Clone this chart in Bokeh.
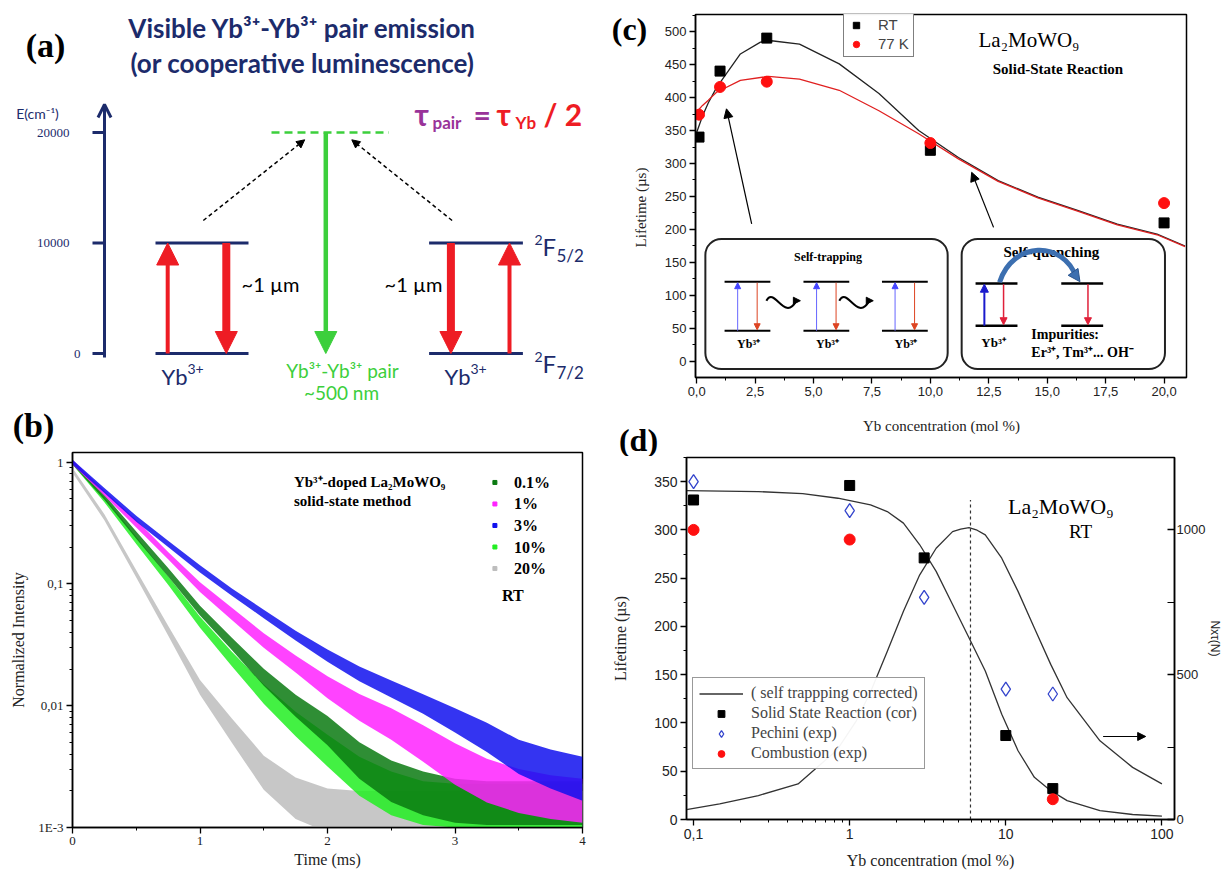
import numpy as np
from bokeh.plotting import figure
from bokeh.layouts import row, column
from bokeh.models import (Range1d, LinearAxis, FixedTicker, CustomJSTickFormatter,
                          Arrow, NormalHead, OpenHead, Legend, LegendItem)
from bokeh.core.properties import value
from bokeh.embed import file_html
from bokeh.resources import INLINE

NAVY = "#1c2b6b"
RED = "#ee1c24"
GREEN = "#3ccf3c"
PURPLE = "#993399"
SERIF = "Liberation Serif"
SANS = "Liberation Sans"
CAL = "Lato"

# ---------------- (a) energy diagram ----------------
energy_ticks = [0, 10000, 20000]
energy_tick_labels = ["0", "10000", "20000"]
yb_levels = [0, 10000]          # 2F7/2 , 2F5/2
pair_level = 20000

# ---------------- (b) decay curves (log10 of normalized intensity) ----------------
decay_t = [0.0, 0.25, 0.5, 0.75, 1.0, 1.25, 1.5, 1.75, 2.0, 2.25, 2.5, 2.75, 3.0, 3.25, 3.5, 3.75, 4.0]
decay_names = ["0.1%", "1%", "3%", "10%", "20%"]
decay_colors = ["#0b7a12", "#ff22ff", "#1010ee", "#22ee22", "#bdbdbd"]
log_i_01 = [0, -0.288, -0.60, -0.904, -1.219, -1.492, -1.767, -2.00, -2.205, -2.45, -2.62, -2.72, -2.78, -2.80, -2.80, -2.80, -2.80]
log_i_1 = [0, -0.255, -0.506, -0.767, -1.027, -1.246, -1.465, -1.657, -1.849, -2.013, -2.15, -2.31, -2.478, -2.615, -2.70, -2.75, -2.78]
log_i_3 = [0, -0.233, -0.465, -0.671, -0.876, -1.068, -1.246, -1.424, -1.588, -1.739, -1.862, -1.985, -2.12, -2.26, -2.42, -2.52, -2.60]
log_i_10 = [0, -0.309, -0.643, -0.972, -1.315, -1.616, -1.903, -2.15, -2.369, -2.58, -2.72, -2.80, -2.82, -2.82, -2.82, -2.82, -2.82]
log_i_20 = [-0.068, -0.452, -0.917, -1.383, -1.849, -2.205, -2.55, -2.76, -2.86, -2.88, -2.88, -2.88, -2.88, -2.88, -2.88, -2.88, -2.88]
spread_01 = [0.02, 0.02, 0.03, 0.035, 0.04, 0.05, 0.07, 0.09, 0.12, 0.15, 0.17, 0.18, 0.18, 0.18, 0.18, 0.18, 0.18]
spread_1 = [0.02, 0.02, 0.03, 0.03, 0.04, 0.05, 0.06, 0.07, 0.09, 0.11, 0.13, 0.15, 0.17, 0.18, 0.18, 0.18, 0.18]
spread_3 = [0.02, 0.02, 0.025, 0.025, 0.03, 0.03, 0.035, 0.04, 0.05, 0.06, 0.07, 0.08, 0.10, 0.12, 0.14, 0.16, 0.18]
spread_10 = [0.02, 0.02, 0.03, 0.035, 0.045, 0.06, 0.08, 0.10, 0.13, 0.16, 0.18, 0.18, 0.18, 0.18, 0.18, 0.18, 0.18]
spread_20 = [0.02, 0.025, 0.03, 0.04, 0.06, 0.10, 0.14, 0.17, 0.18, 0.18, 0.18, 0.18, 0.18, 0.18, 0.18, 0.18, 0.18]

# ---------------- (c) lifetime vs concentration ----------------
conc_c = [0.1, 1, 3, 10, 20]
tau_rt = [340, 440, 490, 320, 210]
tau_77k = [374, 416, 424, 331, 240]
fit_rt_x = [0.0, 0.25, 0.5, 0.85, 1.87, 2.73, 3.2, 4.4, 6.1, 7.8, 9.5, 11.2, 12.9, 14.6, 16.3, 18.0, 19.7, 20.9]
fit_rt_y = [347, 372, 392, 415, 466, 484, 486, 481, 451, 406, 350, 309, 274, 249, 229, 208, 193, 175]
fit_77k_x = [0.0, 0.25, 0.5, 0.85, 1.87, 3.07, 4.4, 6.1, 7.8, 9.5, 11.2, 12.9, 14.6, 16.3, 18.0, 19.7, 20.9]
fit_77k_y = [378, 388, 396, 408, 426, 432, 428, 411, 380, 345, 307, 273, 248, 228, 207, 192, 174]

# ---------------- (d) lifetime vs concentration (log) ----------------
conc_ssr = [0.1, 1, 3, 10, 20]
tau_ssr = [331, 346, 271, 87, 32]
conc_pech = [0.1, 1, 3, 10, 20]
tau_pech = [350, 320, 230, 135, 130]
conc_comb = [0.1, 1, 20]
tau_comb = [300, 290, 21]
fit_tau_x = [0.09, 0.26, 0.5, 0.84, 1.36, 1.74, 2.21, 2.81, 3.58, 4.56, 5.81, 7.39, 9.42, 11.98, 15.24, 19.4, 24.7, 40.1, 64.9, 100]
fit_tau_y = [340.7, 339.7, 337.5, 332.8, 326, 319, 307, 284.6, 257, 222.7, 188.2, 153.8, 109, 71.2, 43.7, 29.9, 19.6, 9.3, 5.2, 3.4]
nxt_x = [0.09, 0.147, 0.26, 0.467, 0.83, 1.1, 1.36, 1.74, 2.21, 2.81, 3.58, 4.56, 5.14, 5.81, 6.55, 7.39, 9.42, 11.98, 15.24, 19.4, 24.7, 40.1, 64.9, 100]
nxt_y = [34.4, 54, 82.6, 122.8, 240, 340, 440, 580, 719, 845, 936.7, 994, 1003, 1008, 999, 982.8, 902.3, 787.7, 661.5, 535.6, 420.7, 271.8, 180, 122.8]
critical_conc = 5.94


def txt(p, x, y, s, size, color="black", font=CAL, style="normal", align="center",
        baseline="middle", angle=0):
    p.text(x=[x], y=[y], text=[s], text_font=value(font), text_font_size=f"{size}px",
           text_font_style=style, text_color=color, text_align=align,
           text_baseline=baseline, angle=angle)


def style_axes(p, tick_font, tick_size, title_font, title_size):
    for ax in p.axis:
        ax.axis_line_color = "black"
        ax.axis_line_width = 1.5
        ax.major_tick_line_color = "black"
        ax.minor_tick_line_color = "black"
        ax.major_tick_line_width = 1.3
        ax.major_tick_in = 0
        ax.major_tick_out = 6
        ax.minor_tick_in = 0
        ax.minor_tick_out = 3
        ax.major_label_standoff = 3
        ax.major_label_text_font = tick_font
        ax.major_label_text_font_size = f"{tick_size}px"
        ax.major_label_text_color = "#222222"
        ax.axis_label_text_font = title_font
        ax.axis_label_text_font_size = f"{title_size}px"
        ax.axis_label_text_font_style = "normal"
        ax.axis_label_text_color = "#222222"
    p.grid.visible = False
    p.outline_line_color = "black"
    p.outline_line_width = 1.5
    p.outline_line_alpha = 1


def strip(w, h):
    s = figure(width=w, height=h, x_range=Range1d(0, w), y_range=Range1d(h, 0),
               x_axis_type=None, y_axis_type=None, toolbar_location=None, output_backend="svg",
               min_border=0, outline_line_color=None, frame_align=False)
    return s


# =================== panel (a) (also holds the "(b)" tag) ===================
def ey(py):
    return (353.0 - py) / 0.01105


pa = figure(width=600, height=445, x_range=Range1d(0, 600), y_range=Range1d(ey(445), ey(0)),
            x_axis_type=None, y_axis_type=None, toolbar_location=None, output_backend="svg",
            min_border=0, outline_line_color=None, frame_align=False)

pa.add_layout(Arrow(end=OpenHead(size=13, line_color=NAVY, line_width=3),
                    x_start=104, y_start=ey(357), x_end=104, y_end=ey(104),
                    line_color=NAVY, line_width=3))
pa.segment(x0=92, y0=energy_ticks, x1=104, y1=energy_ticks, line_color=NAVY, line_width=3)
pa.text(x=[80, 69, 69], y=energy_ticks, text=energy_tick_labels, text_align="right",
        text_baseline="middle", text_font=value(SERIF), text_font_size="13px", text_color=NAVY)
txt(pa, 37, ey(113), "E(cm⁻¹)", 14, NAVY)

for xl, xr in [(155, 248), (428.6, 522.4)]:
    pa.segment(x0=xl, y0=yb_levels, x1=xr, y1=yb_levels, line_color=NAVY, line_width=3)
pa.segment(x0=271, y0=pair_level, x1=388.4, y1=pair_level, line_color=GREEN,
           line_width=2.5, line_dash="8 5")

HEAD = 22


def block_arrow(x, y_from, y_to, color, width):
    sign = 1 if y_to > y_from else -1
    base = y_to - sign * (HEAD - 3) / 0.01105
    pa.segment(x0=x, y0=y_from, x1=x, y1=base, line_color=color, line_width=width)
    pa.add_layout(Arrow(end=NormalHead(size=HEAD, fill_color=color, line_color=color, line_width=1),
                        x_start=x, y_start=base, x_end=x, y_end=y_to,
                        line_color=color, line_width=1))


block_arrow(167.2, yb_levels[0], yb_levels[1], RED, 4)
block_arrow(225.8, yb_levels[1], yb_levels[0], RED, 8)
block_arrow(450.4, yb_levels[1], yb_levels[0], RED, 8)
block_arrow(509.0, yb_levels[0], yb_levels[1], RED, 4)
block_arrow(325.3, pair_level, yb_levels[0], GREEN, 4.5)

for xs, xe in [(202.8, 304.2), (451.6, 351.3)]:
    pa.add_layout(Arrow(end=NormalHead(size=8, fill_color="black", line_color="black"),
                        x_start=xs, y_start=ey(220), x_end=xe, y_end=ey(139.3),
                        line_color="black", line_width=1.5, line_dash="4 3"))

txt(pa, 45, ey(45), "(a)", 34, font=SERIF, style="bold")
txt(pa, 33, ey(425), "(b)", 34, font=SERIF, style="bold")
txt(pa, 302, ey(27), "Visible Yb³⁺-Yb³⁺ pair emission", 26, NAVY, CAL, "bold")
txt(pa, 302, ey(62), "(or cooperative luminescence)", 26, NAVY, CAL, "bold")
txt(pa, 270, ey(283), "~1 µm", 20)
txt(pa, 413, ey(283), "~1 µm", 20)
for x0 in [161, 444]:
    txt(pa, x0, ey(376), "Yb", 22, NAVY, align="left")
    txt(pa, x0 + 26, ey(368), "3+", 14, NAVY, align="left")
txt(pa, 342, ey(370), "Yb³⁺-Yb³⁺ pair", 19, GREEN)
txt(pa, 341, ey(392), "~500 nm", 19, GREEN)
for yc, sub in [(248, "5/2"), (365, "7/2")]:
    txt(pa, 534, ey(yc - 9), "2", 14, NAVY, align="left")
    txt(pa, 542, ey(yc - 2), "F", 24, NAVY, align="left")
    txt(pa, 556, ey(yc + 7), sub, 17, NAVY, align="left")
txt(pa, 414, ey(113), "τ", 30, PURPLE, style="bold", align="left")
txt(pa, 432, ey(122), "pair", 17, PURPLE, style="bold", align="left")
txt(pa, 473, ey(113), "=", 30, PURPLE, style="bold", align="left")
txt(pa, 496, ey(113), "τ", 30, RED, style="bold", align="left")
txt(pa, 515, ey(122), "Yb", 17, RED, style="bold", align="left")
txt(pa, 543, ey(113), "/ 2", 30, RED, style="bold", align="left")

# =================== panel (b) ===================
def bX(px):
    return (px - 71.6) / 127.5


def bY(py):
    return 10 ** (-(py - 461.7) / 121.7)


pb = figure(width=600, height=430, x_range=Range1d(0, 4), y_range=Range1d(1e-3, 1.2),
            y_axis_type="log", toolbar_location=None, output_backend="svg", frame_align=False,
            min_border_left=72, min_border_right=18, min_border_top=7, min_border_bottom=48)

series = {"0.1%": (log_i_01, spread_01), "1%": (log_i_1, spread_1), "3%": (log_i_3, spread_3),
          "10%": (log_i_10, spread_10), "20%": (log_i_20, spread_20)}
colors = dict(zip(decay_names, decay_colors))
for name in ["20%", "10%", "0.1%", "1%", "3%"]:
    li, sp = series[name]
    li = np.array(li)
    sp = np.array(sp)
    pb.varea(x=decay_t, y1=10 ** (li - sp), y2=10 ** (li + sp), fill_color=colors[name], fill_alpha=0.85)

legend_rows = [482, 503.5, 525, 546.5, 568]
pb.scatter(x=[bX(494)] * 5, y=[bY(r) for r in legend_rows], marker="square", size=4,
           color=decay_colors)
pb.text(x=[bX(513)] * 5, y=[bY(r) for r in legend_rows], text=decay_names, text_font=value(SERIF),
        text_font_size="16px", text_font_style="bold", text_align="left", text_baseline="middle")
txt(pb, bX(293), bY(482), "Yb³⁺-doped La₂MoWO₉", 15, font=SERIF, style="bold", align="left")
txt(pb, bX(293), bY(501), "solid-state method", 15, font=SERIF, style="bold", align="left")
txt(pb, bX(501), bY(595), "RT", 16, font=SERIF, style="bold", align="left")

pb.xaxis.ticker = FixedTicker(ticks=[0, 1, 2, 3, 4], minor_ticks=[0.5, 1.5, 2.5, 3.5])
pb.yaxis.formatter = CustomJSTickFormatter(
    code="const v = Number(tick.toPrecision(3)); if (v < 0.005) {return '1E-3';} return String(v).replace('.', ',');")
pb.xaxis.axis_label = "Time (ms)"
pb.yaxis.axis_label = "Normalized Intensity"
style_axes(pb, SERIF, 13, SERIF, 16)
pb.xaxis.axis_label_standoff = 3
pb.yaxis.axis_label_standoff = 8

# =================== panel (c) ===================
def cX(px):
    return (px - 695.7) / 23.37


def cY(py):
    return (360.7 - py) / 0.6593


sc = strip(55, 418)
txt(sc, 29, 28, "(c)", 32, font=SERIF, style="bold")
txt(sc, 40, 207, "Lifetime (µs)", 15, "#222222", font=SERIF, angle=np.pi / 2)

pc = figure(width=570, height=418, x_range=Range1d(-0.05, 20.96), y_range=Range1d(-24.3, 525.8),
            toolbar_location=None, output_backend="svg", frame_align=False,
            min_border_left=40, min_border_right=39, min_border_top=14, min_border_bottom=41)
pc.line(fit_rt_x, fit_rt_y, line_color="#222222", line_width=1.3)
pc.line(fit_77k_x, fit_77k_y, line_color="#e02020", line_width=1.3)
rt_r = pc.scatter(conc_c, tau_rt, marker="square", size=10, color="black")
k77_r = pc.scatter(conc_c, tau_77k, marker="circle", size=11, color="#ff1010")

for l, r in [(704.4, 946.7), (960.7, 1164.0)]:
    pc.quad(left=cX(l), right=cX(r), bottom=cY(368.3), top=cY(238.3), fill_color="white",
            line_color="#222222", line_width=2, border_radius=16)

# self-trapping inset
txt(pc, cX(827), cY(256.7), "Self-trapping", 12, font=SERIF, style="bold")
for il in [723.6, 802.5, 881.0]:
    pc.segment(x0=cX(il), y0=[cY(281), cY(330)], x1=cX(il + 45.8), y1=[cY(281), cY(330)],
               line_color="black", line_width=2)
    pc.add_layout(Arrow(end=NormalHead(size=6, fill_color="#4444ff", line_color="#4444ff"),
                        x_start=cX(il + 13.1), y_start=cY(330), x_end=cX(il + 13.1), y_end=cY(282),
                        line_color="#6666ff", line_width=1))
    pc.add_layout(Arrow(end=NormalHead(size=6, fill_color="#dd4422", line_color="#dd4422"),
                        x_start=cX(il + 32.6), y_start=cY(282), x_end=cX(il + 32.6), y_end=cY(329),
                        line_color="#dd4422", line_width=1))
    txt(pc, cX(il + 24), cY(343.5), "Yb³⁺", 12, font=SERIF, style="bold")
for wl in [765.4, 838.3]:
    pc.bezier(x0=cX(wl), y0=cY(300), x1=cX(wl + 30), y1=cY(300), cx0=cX(wl + 8), cy0=cY(285),
              cx1=cX(wl + 18), cy1=cY(322), line_color="black", line_width=2)
    pc.add_layout(Arrow(end=NormalHead(size=7, fill_color="black", line_color="black"),
                        x_start=cX(wl + 28), y_start=cY(300), x_end=cX(wl + 34), y_end=cY(300),
                        line_color="black", line_width=2))

# self-quenching inset
txt(pc, cX(1050.4), cY(251.7), "Self-quenching", 15, font=SERIF, style="bold")
for il, ir in [(974.6, 1016.5), (1060.3, 1102.2)]:
    pc.segment(x0=cX(il), y0=[cY(282.7), cY(325)], x1=cX(ir), y1=[cY(282.7), cY(325)],
               line_color="black", line_width=2.5)
pc.add_layout(Arrow(end=NormalHead(size=8, fill_color="#1a1acc", line_color="#1a1acc"),
                    x_start=cX(983.4), y_start=cY(325), x_end=cX(983.4), y_end=cY(283.5),
                    line_color="#1a1acc", line_width=2))
for xr in [1002.6, 1087.0]:
    pc.add_layout(Arrow(end=NormalHead(size=7, fill_color="#e0203a", line_color="#e0203a"),
                        x_start=cX(xr), y_start=cY(283.5), x_end=cX(xr), y_end=cY(324),
                        line_color="#e0203a", line_width=1.5))
pc.bezier(x0=cX(998.6), y0=cY(281.5), x1=cX(1075), y1=cY(276), cx0=cX(1012), cy0=cY(240),
          cx1=cX(1062), cy1=cY(240), line_color="#3c6fb0", line_width=5)
pc.add_layout(Arrow(end=NormalHead(size=12, fill_color="#3c6fb0", line_color="#2a5590"),
                    x_start=cX(1072), y_start=cY(271), x_end=cX(1079), y_end=cY(281),
                    line_color="#3c6fb0", line_width=1))
txt(pc, cX(992.6), cY(341.7), "Yb³⁺", 13, font=SERIF, style="bold")
txt(pc, cX(1030.4), cY(333.3), "Impurities:", 14, font=SERIF, style="bold", align="left")
txt(pc, cX(1030.4), cY(351.7), "Er³⁺, Tm³⁺... OH⁻", 14, font=SERIF, style="bold", align="left")

for xs, ys, xe, ye in [(750.7, 223.3, 725.5, 108.3), (992.6, 226.7, 970.7, 171.7)]:
    pc.add_layout(Arrow(end=NormalHead(size=9, fill_color="black", line_color="black"),
                        x_start=cX(xs), y_start=cY(ys), x_end=cX(xe), y_end=cY(ye),
                        line_color="black", line_width=1.2))

txt(pc, cX(1028), cY(40), "La₂MoWO₉", 21, font=SERIF)
txt(pc, cX(1057), cY(68), "Solid-State Reaction", 15, font=SERIF, style="bold")

leg_c = Legend(items=[LegendItem(label="RT", renderers=[rt_r]),
                      LegendItem(label="77 K", renderers=[k77_r])],
               location=(148, 320))
leg_c.border_line_color = "black"
leg_c.border_line_width = 1
leg_c.label_text_font = SANS
leg_c.label_text_font_size = "15px"
leg_c.glyph_width = 16
leg_c.glyph_height = 16
leg_c.label_standoff = 14
leg_c.spacing = 2
leg_c.padding = 4
leg_c.margin = 0
pc.add_layout(leg_c)

pc.xaxis.ticker = FixedTicker(ticks=[0, 2.5, 5, 7.5, 10, 12.5, 15, 17.5, 20],
                              minor_ticks=[1.25, 3.75, 6.25, 8.75, 11.25, 13.75, 16.25, 18.75])
pc.xaxis.formatter = CustomJSTickFormatter(code="return tick.toFixed(1).replace('.', ',');")
pc.yaxis.ticker = FixedTicker(ticks=list(range(0, 501, 50)), minor_ticks=list(range(25, 526, 50)))
style_axes(pc, SANS, 13, SERIF, 15)

# =================== panel (d) ===================
def dX(px):
    return 10 ** (-1 + (px - 692.9) / 159.0)


def dY(py):
    return (819.0 - py) / 0.9686


sd = strip(625, 38)
txt(sd, 341, 7, "Yb concentration (mol %)", 15, "#222222", font=SERIF)
txt(sd, 38, 21, "(d)", 32, font=SERIF, style="bold")

pd_ = figure(width=625, height=419, x_axis_type="log", x_range=Range1d(0.0901, 120.4),
             y_range=Range1d(0, 375), toolbar_location=None, output_backend="svg", frame_align=False,
             min_border_left=86, min_border_right=42, min_border_top=1, min_border_bottom=56)
pd_.extra_y_ranges = {"right": Range1d(0, 1250)}
fit_r = pd_.line(fit_tau_x, fit_tau_y, line_color="#333333", line_width=1.3)
pd_.line(nxt_x, nxt_y, y_range_name="right", line_color="#333333", line_width=1.3)
pd_.segment(x0=critical_conc, y0=0, x1=critical_conc, y1=331, line_color="#333333",
            line_width=1.2, line_dash="3 3")
ssr_r = pd_.scatter(conc_ssr, tau_ssr, marker="square", size=10, color="black")
pech_r = pd_.scatter(conc_pech, tau_pech, marker="diamond", size=14, fill_color="white",
                     line_color="#3344cc", line_width=1.3)
comb_r = pd_.scatter(conc_comb, tau_comb, marker="circle", size=11, color="#ff1010")
pd_.add_layout(Arrow(end=NormalHead(size=8, fill_color="black", line_color="black"),
                     x_start=42, y_start=86, x_end=78.7, y_end=86,
                     line_color="black", line_width=1.2))
txt(pd_, dX(1067), dY(505), "La₂MoWO₉", 22, font=SERIF)
txt(pd_, dX(1087), dY(530), "RT", 19, font=SERIF)

leg_d = Legend(items=[LegendItem(label="( self trappping corrected)", renderers=[fit_r]),
                      LegendItem(label="Solid State Reaction (cor)", renderers=[ssr_r]),
                      LegendItem(label="Pechini (exp)", renderers=[pech_r]),
                      LegendItem(label="Combustion (exp)", renderers=[comb_r])],
               location=(6, 50))
leg_d.border_line_color = "#333333"
leg_d.border_line_width = 1.5
leg_d.label_text_font = SERIF
leg_d.label_text_font_size = "16px"
leg_d.glyph_width = 44
leg_d.glyph_height = 17
leg_d.label_standoff = 8
leg_d.spacing = 2
leg_d.padding = 6
leg_d.margin = 0
pd_.add_layout(leg_d)

pd_.yaxis.ticker = FixedTicker(ticks=list(range(0, 351, 50)), minor_ticks=list(range(25, 376, 50)))
pd_.xaxis.formatter = CustomJSTickFormatter(
    code="return String(Number(tick.toPrecision(3))).replace('.', ',');")
rax = LinearAxis(y_range_name="right", ticker=FixedTicker(ticks=[0, 500, 1000], minor_ticks=[250, 750]))
pd_.add_layout(rax, "right")
pd_.xaxis.axis_label = "Yb concentration (mol %)"
pd_.yaxis[0].axis_label = "Lifetime (µs)"
rax.axis_label = "Nxτ(N)"
style_axes(pd_, SANS, 14, SERIF, 16)
rax.major_tick_out = 0
rax.major_tick_in = 7
rax.minor_tick_out = 0
rax.minor_tick_in = 7
rax.major_label_standoff = 2
rax.major_label_text_font_size = "13px"
rax.axis_label_text_font = SANS
rax.axis_label_text_font_size = "12px"
rax.axis_label_standoff = 0
pd_.xaxis.axis_label_standoff = 10
pd_.yaxis[0].axis_label_standoff = 22

layout = row(column(pa, pb), column(row(sc, pc), sd, pd_))
open("out.html", "w").write(file_html(layout, INLINE))
